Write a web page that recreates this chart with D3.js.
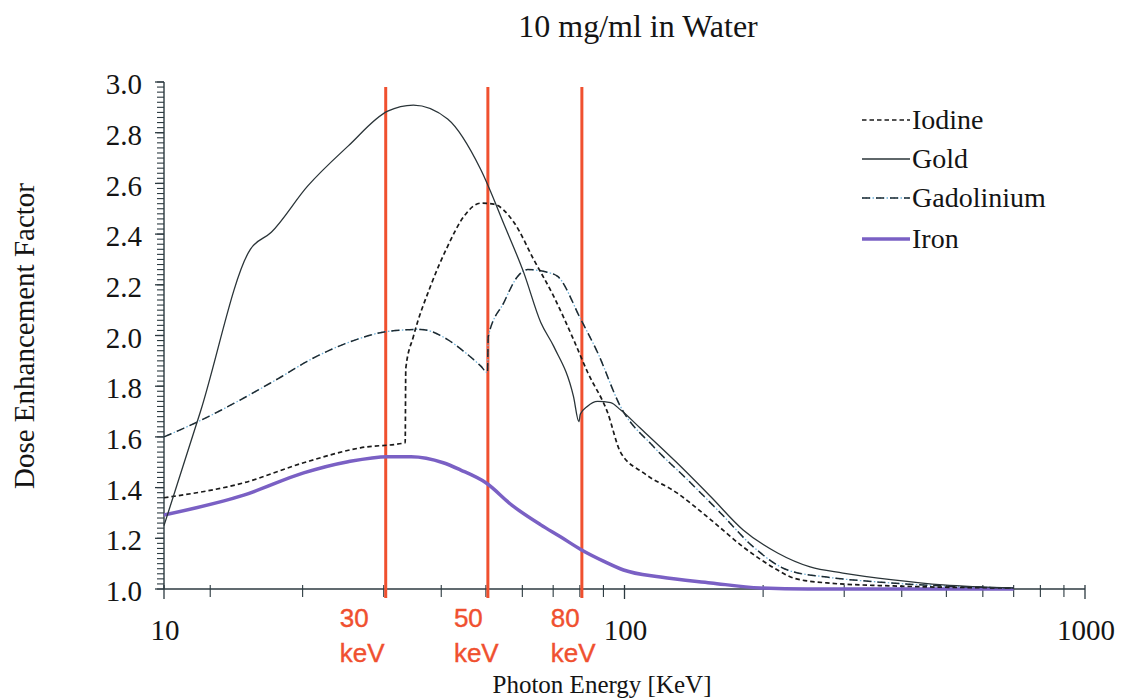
<!DOCTYPE html>
<html><head><meta charset="utf-8">
<script src="https://cdn.jsdelivr.net/npm/d3@7"></script>
<style>
body{margin:0;background:#fff;}
svg{display:block;}
</style></head>
<body>
<svg id="chart" width="1122" height="700"></svg>
<script>
// ---- data ----
const goldE = [10, 12, 15.4, 17.1, 20.5, 25.1, 30.6, 34.8, 41.3, 48.7, 55, 60.4, 65.8, 70.2, 77.5, 79.6, 80.2, 83, 87.4, 93.3, 98, 108, 130, 154, 181, 215, 253, 298, 383, 492, 700];
const goldV = [1.25, 1.70, 2.34, 2.407, 2.589, 2.747, 2.885, 2.909, 2.854, 2.656, 2.43, 2.249, 2.051, 1.957, 1.759, 1.66, 1.69, 1.72, 1.74, 1.735, 1.707, 1.636, 1.498, 1.364, 1.233, 1.142, 1.087, 1.063, 1.036, 1.016, 1.004];
const iodE = [10, 14.9, 20.1, 26.7, 33.4, 33.5, 34.8, 37.9, 41.3, 44.8, 48.7, 52, 57.5, 63.5, 70.2, 77.5, 83.2, 91.9, 98, 110, 130, 154, 181, 215, 233, 275, 383, 700];
const iodV = [1.36, 1.419, 1.498, 1.557, 1.577, 1.87, 1.996, 2.194, 2.352, 2.47, 2.522, 2.518, 2.447, 2.30, 2.154, 1.984, 1.854, 1.696, 1.54, 1.458, 1.379, 1.273, 1.166, 1.075, 1.043, 1.024, 1.012, 1.004];
const gdE = [10, 11.85, 17.7, 20.8, 25.1, 30.6, 36.1, 41.3, 44.8, 48.7, 50.4, 50.6, 54.7, 58.6, 61.6, 68.1, 71.6, 80.4, 87.4, 98, 115.7, 137, 161.6, 190.5, 226, 275, 354, 492, 700];
const gdV = [1.60, 1.66, 1.83, 1.905, 1.972, 2.016, 2.024, 1.984, 1.937, 1.88, 1.854, 1.996, 2.13, 2.233, 2.26, 2.249, 2.233, 2.063, 1.933, 1.72, 1.561, 1.431, 1.30, 1.166, 1.075, 1.047, 1.028, 1.012, 1.004];
const feE = [10, 14.9, 20.1, 25.1, 30.6, 34.4, 40.4, 44, 50, 57, 65.8, 72.6, 80.7, 90, 99.5, 119.7, 154, 197, 250, 700];
const feV = [1.292, 1.37, 1.458, 1.502, 1.522, 1.522, 1.498, 1.47, 1.419, 1.33, 1.253, 1.206, 1.154, 1.11, 1.075, 1.047, 1.024, 1.004, 1.0, 1.0];

const seriesNames = ["Iodine", "Gold", "Gadolinium", "Iron"];
const markerEnergies = [30, 50, 80];
const markerLabels = ["30", "50", "80"];
const xLabelTicks = [10, 100, 1000];
const xMinorTicks = [12.6, 20, 30, 40, 50, 60, 70, 80, 90, 200, 300, 400, 500, 600, 700, 800, 900];
const yMajorTicks = [1.0, 1.2, 1.4, 1.6, 1.8, 2.0, 2.2, 2.4, 2.6, 2.8, 3.0];

// ---- layout ----
const svg = d3.select("#chart");
const AX = 164;
const x = d3.scaleLog().domain([10, 1000]).range([AX, 1085]);
const y = d3.scaleLinear().domain([1, 3]).range([589, 82]);
const serif = "'Liberation Serif','Times New Roman',serif";
const axisColor = "#2c3a40";
const textColor = "#141414";

// title
svg.append("text").attr("x", 638).attr("y", 37).attr("text-anchor", "middle")
  .attr("font-family", serif).attr("font-size", 32).attr("fill", textColor).text("10 mg/ml in Water");

// y label
svg.append("text").attr("transform", "translate(34,336) rotate(-90)").attr("text-anchor", "middle")
  .attr("font-family", serif).attr("font-size", 29).attr("fill", textColor).text("Dose Enhancement Factor");
// x label
svg.append("text").attr("x", 602).attr("y", 693).attr("text-anchor", "middle")
  .attr("font-family", serif).attr("font-size", 25).attr("fill", textColor).text("Photon Energy [KeV]");

// y axis
const yMinor = d3.range(1.0, 3.0001, 0.02);
const gy = svg.append("g");
gy.append("line").attr("x1", AX).attr("x2", AX).attr("y1", y(1)).attr("y2", y(3)).attr("stroke", axisColor).attr("stroke-width", 1.4);
gy.selectAll("line.mn").data(yMinor).join("line").attr("class", "mn")
  .attr("x1", AX - 7).attr("x2", AX).attr("y1", d => y(d)).attr("y2", d => y(d)).attr("stroke", axisColor).attr("stroke-width", 1.1);
gy.selectAll("line.mj").data(yMajorTicks).join("line").attr("class", "mj")
  .attr("x1", AX - 9).attr("x2", AX).attr("y1", d => y(d)).attr("y2", d => y(d)).attr("stroke", axisColor).attr("stroke-width", 1.3);
gy.selectAll("text").data(yMajorTicks).join("text")
  .attr("x", 142).attr("y", d => y(d)).attr("dy", "0.42em").attr("text-anchor", "end")
  .attr("font-family", serif).attr("font-size", 29).attr("fill", textColor).text(d => d3.format(".1f")(d));

// x axis
const gx = svg.append("g");
gx.append("line").attr("x1", x(10)).attr("x2", x(1000)).attr("y1", 589).attr("y2", 589).attr("stroke", axisColor).attr("stroke-width", 1.4);
gx.selectAll("line.mn").data(xMinorTicks).join("line").attr("class", "mn")
  .attr("x1", d => x(d)).attr("x2", d => x(d)).attr("y1", 585).attr("y2", 597).attr("stroke", axisColor).attr("stroke-width", 1.1);
gx.selectAll("line.mj").data(xLabelTicks).join("line").attr("class", "mj")
  .attr("x1", d => x(d)).attr("x2", d => x(d)).attr("y1", 585).attr("y2", 599).attr("stroke", axisColor).attr("stroke-width", 1.3);
gx.selectAll("text").data(xLabelTicks).join("text")
  .attr("x", d => x(d) + 1).attr("y", 640).attr("text-anchor", "middle")
  .attr("font-family", serif).attr("font-size", 29).attr("fill", textColor).text(d => d);

// red marker lines
const markerColor = "#f0502f";
svg.selectAll("line.marker").data(markerEnergies).join("line").attr("class", "marker")
  .attr("x1", d => x(d) + 2).attr("x2", d => x(d) + 2).attr("y1", 87).attr("y2", 598)
  .attr("stroke", markerColor).attr("stroke-width", 3);
const labelOffsets = [-46, -34, -31];
const sans = "'Liberation Sans',Arial,sans-serif";
markerEnergies.forEach((e, i) => {
  const lx = x(e) + 2 + labelOffsets[i];
  svg.append("text").attr("x", lx).attr("y", 627)
    .attr("font-family", sans).attr("font-size", 26).attr("fill", markerColor)
    .attr("stroke", markerColor).attr("stroke-width", 0.4).text(markerLabels[i]);
  svg.append("text").attr("x", lx).attr("y", 662)
    .attr("font-family", sans).attr("font-size", 26).attr("fill", markerColor)
    .attr("stroke", markerColor).attr("stroke-width", 0.4).text("keV");
});

// curves
const line = d3.line().x(d => x(d[0])).y(d => y(d[1])).curve(d3.curveMonotoneX);
const zip = (a, b) => a.map((v, i) => [v, b[i]]);

// iron
svg.append("path").attr("d", line(zip(feE, feV))).attr("fill", "none")
  .attr("stroke", "#7a60c4").attr("stroke-width", 3.5);
// gadolinium: light dotted base + dark dashes
svg.append("path").attr("d", line(zip(gdE, gdV))).attr("fill", "none")
  .attr("stroke", "#6fb2da").attr("stroke-width", 1.3).attr("stroke-dasharray", "1.5,2");
svg.append("path").attr("d", line(zip(gdE, gdV))).attr("fill", "none")
  .attr("stroke", "#1e2a30").attr("stroke-width", 1.5).attr("stroke-dasharray", "8,6");
// iodine
svg.append("path").attr("d", line(zip(iodE, iodV))).attr("fill", "none")
  .attr("stroke", "#1a1a1a").attr("stroke-width", 1.7).attr("stroke-dasharray", "4.5,3");
// gold
svg.append("path").attr("d", line(zip(goldE, goldV))).attr("fill", "none")
  .attr("stroke", "#2a3438").attr("stroke-width", 1.3);

// legend
const legendY = [120, 159, 198, 239];
const lg = svg.append("g");
const styles = [
  {stroke: "#1a1a1a", w: 1.7, dash: "4.5,3"},
  {stroke: "#2a3438", w: 1.3, dash: null},
  {stroke: "#1e2a30", w: 1.5, dash: "8,6"},
  {stroke: "#7a60c4", w: 3.5, dash: null}
];
seriesNames.forEach((n, i) => {
  if (i === 2) {
    lg.append("line").attr("x1", 862).attr("x2", 910).attr("y1", legendY[i]).attr("y2", legendY[i])
      .attr("stroke", "#6fb2da").attr("stroke-width", 1.3).attr("stroke-dasharray", "1.5,2");
  }
  const l = lg.append("line").attr("x1", 862).attr("x2", 910).attr("y1", legendY[i]).attr("y2", legendY[i])
    .attr("stroke", styles[i].stroke).attr("stroke-width", styles[i].w);
  if (styles[i].dash) l.attr("stroke-dasharray", styles[i].dash);
  lg.append("text").attr("x", 912).attr("y", legendY[i]).attr("dy", "0.33em")
    .attr("font-family", serif).attr("font-size", 28).attr("fill", textColor).text(n);
});
</script>
</body></html>
